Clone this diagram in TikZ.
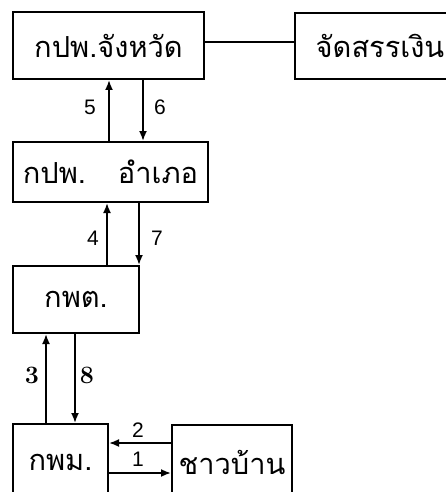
\documentclass[tikz,border=0pt]{standalone}
\usepackage{fontspec}
\usepackage{tikz}
\usetikzlibrary{arrows.meta}
\newfontfamily\thaifont[Script=Thai]{Loma}
\newfontfamily\numfont{Liberation Sans}

\begin{document}
\begin{tikzpicture}[
		x=1pt, y=-1pt,
		every node/.style={rectangle, draw, line width=2pt, inner sep=0pt, font=\thaifont\fontsize{29}{32}\selectfont},
		num/.style={draw=none, font=\numfont\fontsize{21}{22}\selectfont},
		boldnum/.style={draw=none, font=\bfseries\fontsize{25}{26}\selectfont},
		flow/.style={line width=1.8pt, -{Latex[length=10pt, width=8pt]}}
	]
  \clip (0,0) rectangle (446,492);
  \node (jangwat) [minimum width=191pt, minimum height=67pt] at (108.5,45.5) {กปพ.จังหวัด};
  \node (ngoen) [minimum width=170pt, minimum height=66pt] at (380,46) {จัดสรรเงิน};
  \node (amphoe) [minimum width=195pt, minimum height=60pt] at (110.5,172) {กปพ.\hspace{32pt}อำเภอ};
  \node (kpt) [minimum width=126pt, minimum height=67pt] at (76,299.5) {กพต.};
  \node (kpm) [minimum width=95pt, minimum height=76pt] at (60.5,462) {กพม.};
  \node (villager) [minimum width=120pt, minimum height=75pt] at (232,462.5) {ชาวบ้าน};
  \node (n5) [num] at (90,107) {5};
  \node (n6) [num] at (160,107) {6};
  \node (n4) [num] at (93,238) {4};
  \node (n7) [num] at (157,238) {7};
  \node (n3) [boldnum] at (32,375) {3};
  \node (n8) [boldnum] at (87,375) {8};
  \node (n2) [num] at (138,430) {2};
  \node (n1) [num] at (138,459) {1};
  \coordinate (x5) at (109,0);
  \coordinate (x6) at (143,0);
  \coordinate (x4) at (107,0);
  \coordinate (x7) at (139,0);
  \coordinate (x3) at (46,0);
  \coordinate (x8) at (75,0);
  \coordinate (y0) at (0,42);
  \coordinate (y2) at (0,443);
  \coordinate (y1) at (0,473);
  \draw [line width=1.8pt] (jangwat.east |- y0) -- (ngoen.west |- y0);
  \draw [flow] (x5 |- amphoe.north) -- (x5 |- jangwat.south);
  \draw [flow] (x6 |- jangwat.south) -- (x6 |- amphoe.north);
  \draw [flow] (x4 |- kpt.north) -- (x4 |- amphoe.south);
  \draw [flow] (x7 |- amphoe.south) -- (x7 |- kpt.north);
  \draw [flow] (x3 |- kpm.north) -- (x3 |- kpt.south);
  \draw [flow] (x8 |- kpt.south) -- (x8 |- kpm.north);
  \draw [flow] (villager.west |- y2) -- (kpm.east |- y2);
  \draw [flow] (kpm.east |- y1) -- (villager.west |- y1);
\end{tikzpicture}
\end{document}
